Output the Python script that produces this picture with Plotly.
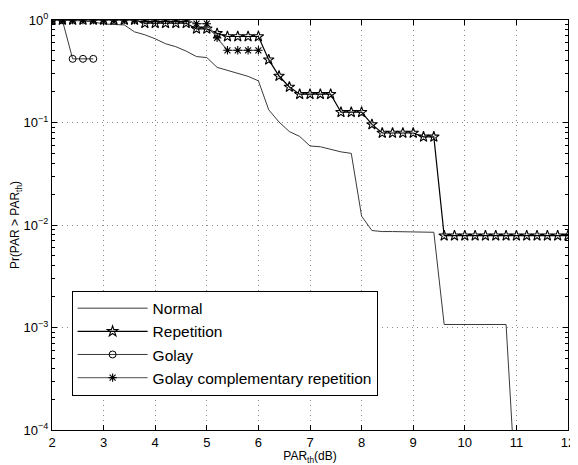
import plotly.graph_objects as go

# ---------------- data ----------------
normal_x = [2.0, 2.2, 2.4, 2.6, 2.8, 3.0, 3.2, 3.4, 3.6, 3.8, 4.0, 4.2, 4.4, 4.6, 4.8, 5.0,
            5.2, 5.4, 5.6, 5.8, 6.0, 6.2, 6.4, 6.6, 6.8, 7.0, 7.2, 7.4, 7.6, 7.8, 8.0, 8.2,
            8.4, 8.6, 8.8, 9.0, 9.2, 9.4, 9.6, 9.8, 10.0, 10.2, 10.4, 10.6, 10.8, 11.0]
normal_y = [1.0, 1.0, 0.989, 0.978, 0.957, 0.915, 0.905, 0.895, 0.766, 0.717, 0.656, 0.587,
            0.549, 0.497, 0.440, 0.430, 0.345, 0.322, 0.302, 0.282, 0.255, 0.133, 0.101,
            0.0816, 0.0731, 0.0590, 0.0580, 0.0547, 0.0517, 0.0500, 0.0122, 0.00883,
            0.00863, 0.00863, 0.00863, 0.00863, 0.00863, 0.00849, 0.00107, 0.00107,
            0.00107, 0.00107, 0.00107, 0.00107, 0.00107, 0.00002]

rep_x = [2.0, 2.2, 2.4, 2.6, 2.8, 3.0, 3.2, 3.4, 3.6, 3.8, 4.0, 4.2, 4.4, 4.6, 4.8, 5.0,
         5.2, 5.4, 5.6, 5.8, 6.0, 6.2, 6.4, 6.6, 6.8, 7.0, 7.2, 7.4, 7.6, 7.8, 8.0, 8.2,
         8.4, 8.6, 8.8, 9.0, 9.2, 9.4, 9.6, 9.8, 10.0, 10.2, 10.4, 10.6, 10.8, 11.0,
         11.2, 11.4, 11.6, 11.8, 12.0]
rep_y = [1.0, 1.0, 1.0, 1.0, 1.0, 1.0, 1.0, 1.0, 1.0, 0.93, 0.93, 0.93, 0.93, 0.93, 0.82,
         0.82, 0.74, 0.69, 0.69, 0.69, 0.69, 0.41, 0.284, 0.222, 0.189, 0.189, 0.189,
         0.189, 0.126, 0.126, 0.126, 0.0958, 0.079, 0.079, 0.079, 0.079, 0.0724, 0.0724,
         0.00787, 0.00787, 0.00787, 0.00787, 0.00787, 0.00787, 0.00787, 0.00787, 0.00787,
         0.00787, 0.00787, 0.00787, 0.00787]

golay_x = [2.0, 2.2, 2.4, 2.6, 2.8]
golay_y = [1.0, 1.0, 0.418, 0.418, 0.418]

gcr_x = [2.0, 2.2, 2.4, 2.6, 2.8, 3.0, 3.2, 3.4, 3.6, 3.8, 4.0, 4.2, 4.4, 4.6, 4.8, 5.0,
         5.2, 5.4, 5.6, 5.8, 6.0]
gcr_y = [1.0, 1.0, 1.0, 1.0, 1.0, 1.0, 1.0, 1.0, 1.0, 1.0, 1.0, 1.0, 1.0, 1.0, 0.92, 0.92,
         0.67, 0.506, 0.506, 0.506, 0.506]

x_ticks = [2, 3, 4, 5, 6, 7, 8, 9, 10, 11, 12]
y_ticks = [1e-4, 1e-3, 1e-2, 1e-1, 1]
y_tick_text = ["10<sup>\u22124</sup>", "10<sup>\u22123</sup>", "10<sup>\u22122</sup>",
               "10<sup>\u22121</sup>", "10<sup>0</sup>"]
y_minor_ticks = [m * 10.0 ** e for e in range(-4, 0) for m in range(2, 10)]

FONT = "Liberation Sans, Arial, Helvetica"

# ---------------- figure ----------------
fig = go.Figure()
fig.add_trace(go.Scatter(x=normal_x, y=normal_y, mode="lines", name="Normal",
                         line=dict(color="#3a3a3a", width=1)))
fig.add_trace(go.Scatter(x=rep_x, y=rep_y, mode="lines+markers", name="Repetition",
                         line=dict(color="black", width=1.2),
                         marker=dict(symbol="star-open", size=8, color="black",
                                     line=dict(color="black", width=1.1))))
fig.add_trace(go.Scatter(x=golay_x, y=golay_y, mode="lines+markers", name="Golay",
                         line=dict(color="#3a3a3a", width=1),
                         marker=dict(symbol="circle-open", size=7, color="black",
                                     line=dict(color="black", width=1))))
fig.add_trace(go.Scatter(x=gcr_x, y=gcr_y, mode="lines+markers",
                         name="Golay complementary repetition",
                         line=dict(color="#707070", width=1.2),
                         marker=dict(symbol="asterisk-open", size=7, color="black",
                                     line=dict(color="black", width=1.1))))

axis_common = dict(showline=True, linecolor="black", linewidth=1, mirror="allticks",
                   ticks="inside", ticklen=5, tickcolor="black",
                   showgrid=True, gridcolor="#8a8a8a", griddash="1px,4px", gridwidth=1,
                   zeroline=False, ticklabeloverflow="allow",
                   tickfont=dict(family=FONT, size=13, color="black"))

fig.update_xaxes(range=[2, 12], tickvals=x_ticks, **axis_common,
                 title=dict(text="PAR<sub>th</sub>(dB)", standoff=2,
                            font=dict(family=FONT, size=12, color="black")))
fig.update_yaxes(type="log", range=[-4, 0], tickvals=y_ticks, ticktext=y_tick_text,
                 **axis_common,
                 minor=dict(tickvals=y_minor_ticks, ticks="inside", ticklen=3,
                            tickcolor="black", showgrid=False),
                 title=dict(text="Pr(PAR > PAR<sub>th</sub>)", standoff=4,
                            font=dict(family=FONT, size=12, color="black")))

# page body has an 8px margin, so the figure is sized/margined to compensate
fig.update_layout(
    width=570, height=457,
    margin=dict(l=40, r=3, t=7, b=35),
    paper_bgcolor="white", plot_bgcolor="white",
    showlegend=True,
    legend=dict(x=0.038, y=0.34, xanchor="left", yanchor="top",
                bgcolor="white", bordercolor="black", borderwidth=1,
                font=dict(family=FONT, size=15.5, color="black"),
                itemwidth=70, tracegroupgap=0),
)

fig.write_html("out.html")
